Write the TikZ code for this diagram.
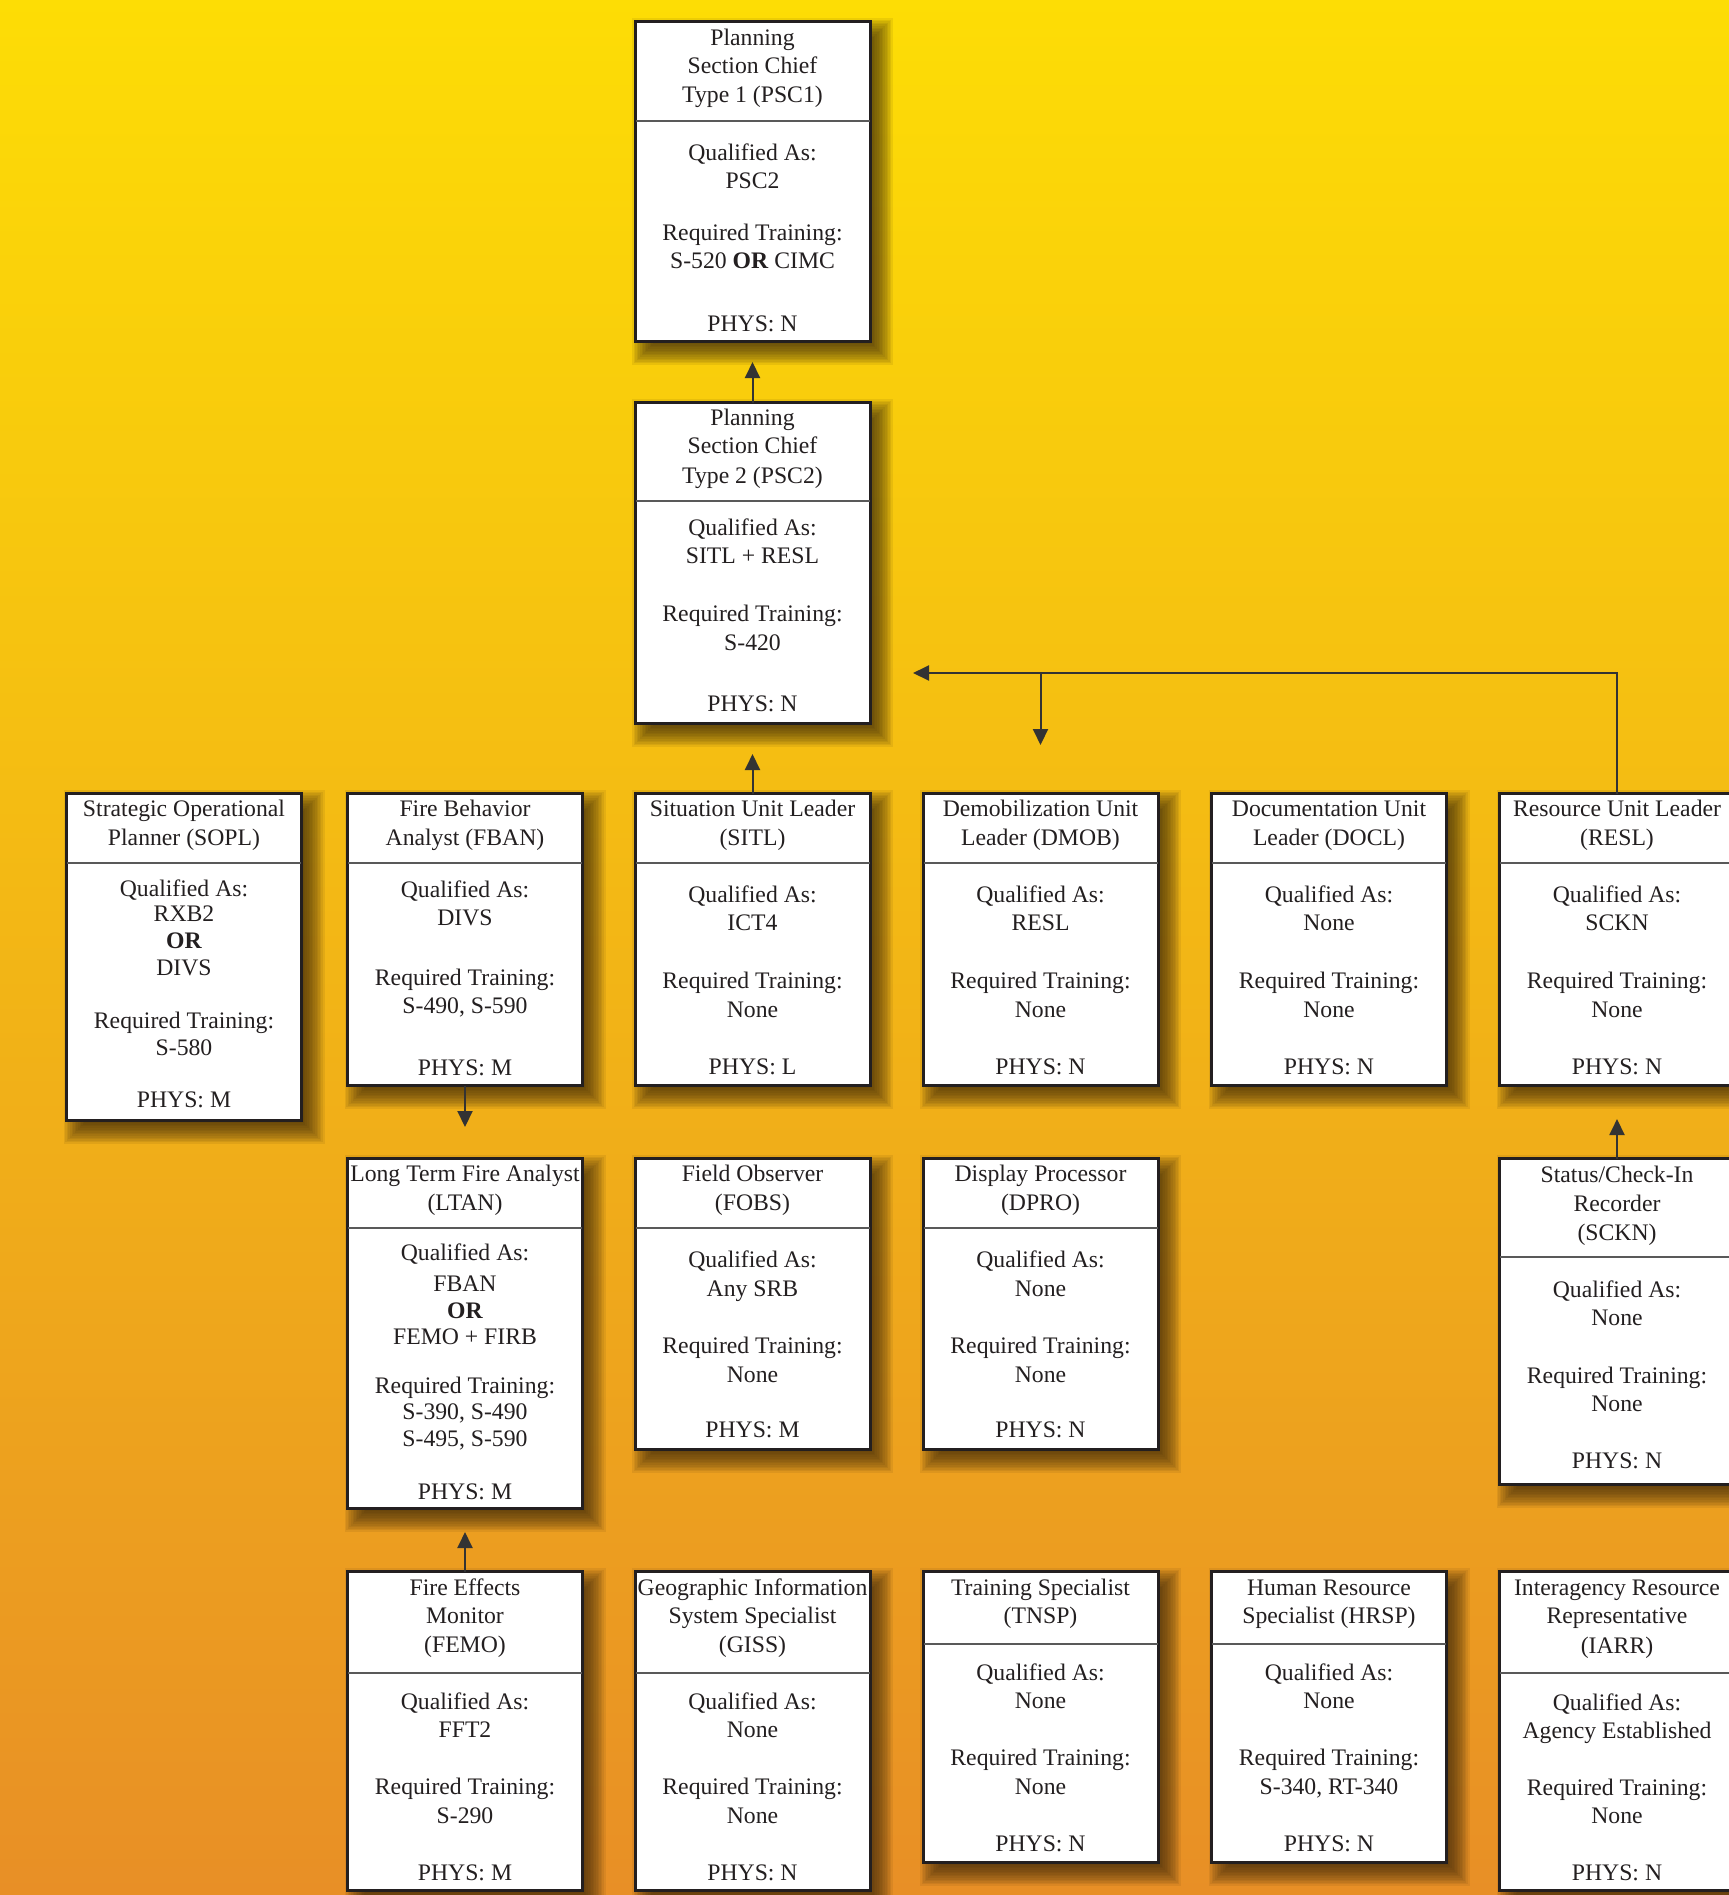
\documentclass[tikz,border=0pt]{standalone}
\usepackage{fontspec}
\setmainfont{Liberation Serif}
\usetikzlibrary{arrows.meta}
\definecolor{bgtop}{RGB}{253,221,5}
\definecolor{bgbot}{RGB}{232,143,38}
\definecolor{ink}{RGB}{35,31,32}
\definecolor{shd}{RGB}{60,40,10}
\newcount\txcnt
\newcommand\tx[3]{\global\advance\txcnt by 1\relax\node[txt] (t\the\txcnt) at (#1,#2+8) {#3};}
\newcommand\pbox[5]{%
  \foreach \k in {0,...,15}{\fill[shd,opacity=0.085] ({#2-118.5+10-12+1.6*\k},{#3+10-12+1.6*\k}) rectangle ({#2+118.5+10+12-1.6*\k},{#5+10+12-1.6*\k});}
  \node[boxst, minimum height={(#5-#3-3)*0.5pt}] (#1) at (#2,{(#3+#5)/2}) {};
  \draw[divst] ({#2-117},#4) -- ({#2+117},#4);
}
\tikzset{
 boxst/.style={draw=ink, line width=1.5pt, fill=white, minimum width=117.5pt, inner sep=0pt, outer sep=0pt},
 divst/.style={draw=black!65, line width=1pt},
 txt/.style={anchor=base, inner sep=0pt, text=ink, font=\fontsize{11.85pt}{14pt}\selectfont},
 conn/.style={draw=black!80, line width=1pt, -{Triangle[length=8pt,width=7.5pt]}},
}
\begin{document}
\begin{tikzpicture}[x=0.5pt,y=-0.5pt]
\useasboundingbox (0,0) rectangle (1729,1895);
\shade[top color=bgtop, bottom color=bgbot] (0,0) rectangle (1729,1895);
% columns: 184, 465, 752.5, 1040.5, 1329, 1617
% ---- PSC1
\pbox{psc1}{752.5}{20}{121}{343}
\tx{752.5}{37}{Planning}
\tx{752.5}{65}{Section Chief}
\tx{752.5}{94}{Type 1 (PSC1)}
\tx{752.5}{152}{Qualified As:}
\tx{752.5}{180}{PSC2}
\tx{752.5}{232}{Required Training:}
\tx{752.5}{260}{S-520 \textbf{OR} CIMC}
\tx{752.5}{323}{PHYS: N}
% ---- PSC2
\pbox{psc2}{752.5}{401}{501}{725}
\tx{752.5}{417}{Planning}
\tx{752.5}{445}{Section Chief}
\tx{752.5}{475}{Type 2 (PSC2)}
\tx{752.5}{527}{Qualified As:}
\tx{752.5}{555}{SITL + RESL}
\tx{752.5}{613}{Required Training:}
\tx{752.5}{642}{S-420}
\tx{752.5}{703}{PHYS: N}
% ---- SOPL
\pbox{sopl}{184}{792}{863}{1122}
\tx{184}{808}{Strategic Operational}
\tx{184}{837}{Planner (SOPL)}
\tx{184}{888}{Qualified As:}
\tx{184}{913}{RXB2}
\tx{184}{940}{\textbf{OR}}
\tx{184}{967}{DIVS}
\tx{184}{1020}{Required Training:}
\tx{184}{1047}{S-580}
\tx{184}{1099}{PHYS: M}
% ---- FBAN
\pbox{fban}{465}{792}{863}{1087}
\tx{465}{808}{Fire Behavior}
\tx{465}{837}{Analyst (FBAN)}
\tx{465}{889}{Qualified As:}
\tx{465}{917}{DIVS}
\tx{465}{977}{Required Training:}
\tx{465}{1005}{S-490, S-590}
\tx{465}{1067}{PHYS: M}
% ---- SITL
\pbox{sitl}{752.5}{792}{863}{1087}
\tx{752.5}{808}{Situation Unit Leader}
\tx{752.5}{837}{(SITL)}
\tx{752.5}{894}{Qualified As:}
\tx{752.5}{922}{ICT4}
\tx{752.5}{980}{Required Training:}
\tx{752.5}{1009}{None}
\tx{752.5}{1066}{PHYS: L}
% ---- DMOB
\pbox{dmob}{1040.5}{792}{863}{1087}
\tx{1040.5}{808}{Demobilization Unit}
\tx{1040.5}{837}{Leader (DMOB)}
\tx{1040.5}{894}{Qualified As:}
\tx{1040.5}{922}{RESL}
\tx{1040.5}{980}{Required Training:}
\tx{1040.5}{1009}{None}
\tx{1040.5}{1066}{PHYS: N}
% ---- DOCL
\pbox{docl}{1329}{792}{863}{1087}
\tx{1329}{808}{Documentation Unit}
\tx{1329}{837}{Leader (DOCL)}
\tx{1329}{894}{Qualified As:}
\tx{1329}{922}{None}
\tx{1329}{980}{Required Training:}
\tx{1329}{1009}{None}
\tx{1329}{1066}{PHYS: N}
% ---- RESL
\pbox{resl}{1617}{792}{863}{1087}
\tx{1617}{808}{Resource Unit Leader}
\tx{1617}{837}{(RESL)}
\tx{1617}{894}{Qualified As:}
\tx{1617}{922}{SCKN}
\tx{1617}{980}{Required Training:}
\tx{1617}{1009}{None}
\tx{1617}{1066}{PHYS: N}
% ---- LTAN
\pbox{ltan}{465}{1157}{1228}{1510}
\tx{465}{1173}{Long Term Fire Analyst}
\tx{465}{1202}{(LTAN)}
\tx{465}{1252}{Qualified As:}
\tx{465}{1283}{FBAN}
\tx{465}{1310}{\textbf{OR}}
\tx{465}{1336}{FEMO + FIRB}
\tx{465}{1385}{Required Training:}
\tx{465}{1411}{S-390, S-490}
\tx{465}{1438}{S-495, S-590}
\tx{465}{1491}{PHYS: M}
% ---- FOBS
\pbox{fobs}{752.5}{1157}{1228}{1451}
\tx{752.5}{1173}{Field Observer}
\tx{752.5}{1202}{(FOBS)}
\tx{752.5}{1259}{Qualified As:}
\tx{752.5}{1288}{Any SRB}
\tx{752.5}{1345}{Required Training:}
\tx{752.5}{1374}{None}
\tx{752.5}{1429}{PHYS: M}
% ---- DPRO
\pbox{dpro}{1040.5}{1157}{1228}{1451}
\tx{1040.5}{1173}{Display Processor}
\tx{1040.5}{1202}{(DPRO)}
\tx{1040.5}{1259}{Qualified As:}
\tx{1040.5}{1288}{None}
\tx{1040.5}{1345}{Required Training:}
\tx{1040.5}{1374}{None}
\tx{1040.5}{1429}{PHYS: N}
% ---- SCKN
\pbox{sckn}{1617}{1157}{1257}{1486}
\tx{1617}{1174}{Status/Check-In}
\tx{1617}{1203}{Recorder}
\tx{1617}{1232}{(SCKN)}
\tx{1617}{1289}{Qualified As:}
\tx{1617}{1317}{None}
\tx{1617}{1375}{Required Training:}
\tx{1617}{1403}{None}
\tx{1617}{1460}{PHYS: N}
% ---- FEMO
\pbox{femo}{465}{1570}{1673}{1892}
\tx{465}{1587}{Fire Effects}
\tx{465}{1615}{Monitor}
\tx{465}{1644}{(FEMO)}
\tx{465}{1701}{Qualified As:}
\tx{465}{1729}{FFT2}
\tx{465}{1786}{Required Training:}
\tx{465}{1815}{S-290}
\tx{465}{1872}{PHYS: M}
% ---- GISS
\pbox{giss}{752.5}{1570}{1673}{1892}
\tx{752.5}{1587}{Geographic Information}
\tx{752.5}{1615}{System Specialist}
\tx{752.5}{1644}{(GISS)}
\tx{752.5}{1701}{Qualified As:}
\tx{752.5}{1729}{None}
\tx{752.5}{1786}{Required Training:}
\tx{752.5}{1815}{None}
\tx{752.5}{1872}{PHYS: N}
% ---- TNSP
\pbox{tnsp}{1040.5}{1570}{1644}{1864}
\tx{1040.5}{1587}{Training Specialist}
\tx{1040.5}{1615}{(TNSP)}
\tx{1040.5}{1672}{Qualified As:}
\tx{1040.5}{1700}{None}
\tx{1040.5}{1757}{Required Training:}
\tx{1040.5}{1786}{None}
\tx{1040.5}{1843}{PHYS: N}
% ---- HRSP
\pbox{hrsp}{1329}{1570}{1644}{1864}
\tx{1329}{1587}{Human Resource}
\tx{1329}{1615}{Specialist (HRSP)}
\tx{1329}{1672}{Qualified As:}
\tx{1329}{1700}{None}
\tx{1329}{1757}{Required Training:}
\tx{1329}{1786}{S-340, RT-340}
\tx{1329}{1843}{PHYS: N}
% ---- IARR
\pbox{iarr}{1617}{1570}{1673}{1892}
\tx{1617}{1587}{Interagency Resource}
\tx{1617}{1615}{Representative}
\tx{1617}{1645}{(IARR)}
\tx{1617}{1702}{Qualified As:}
\tx{1617}{1730}{Agency Established}
\tx{1617}{1787}{Required Training:}
\tx{1617}{1815}{None}
\tx{1617}{1872}{PHYS: N}
% ---- connectors
\coordinate (e1) at (752.5,362);
\coordinate (e2) at (752.5,754);
\coordinate (e3) at (465,1127);
\coordinate (e4) at (465,1532);
\coordinate (e5) at (1617,1119);
\coordinate (e6) at (913,673);
\coordinate (jn) at (1040.5,673);
\coordinate (e7) at (1040.5,745);
\draw[conn] (psc2.north) -- (e1);
\draw[conn] (sitl.north) -- (e2);
\draw[conn] (fban.south) -- (e3);
\draw[conn] (femo.north) -- (e4);
\draw[conn] (sckn.north) -- (e5);
\draw[conn] (resl.north) |- (e6);
\draw[conn] (jn) -- (e7);
\end{tikzpicture}
\end{document}
